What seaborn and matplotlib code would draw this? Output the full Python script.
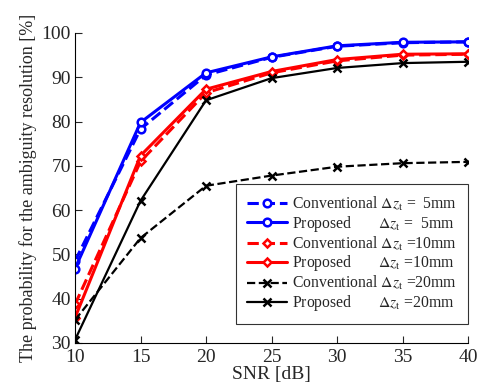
import numpy as np
import matplotlib
matplotlib.use("Agg")
import matplotlib.pyplot as plt
import seaborn as sns

snr = [10, 15, 20, 25, 30, 35, 40]

conv_5 = [48.5, 78.3, 90.5, 94.5, 97.0, 97.8, 98.0]
prop_5 = [46.8, 79.8, 91.0, 94.6, 97.1, 97.9, 98.0]
conv_10 = [38.7, 71.0, 86.5, 91.0, 93.7, 95.0, 95.2]
prop_10 = [35.7, 72.3, 87.3, 91.3, 94.0, 95.2, 95.3]
conv_20 = [35.2, 53.7, 65.5, 67.8, 69.8, 70.6, 70.9]
prop_20 = [30.7, 62.1, 84.8, 89.8, 92.1, 93.2, 93.5]

labels = [
    r"Conventional $\Delta z_{\mathrm{t}}$ =  5mm",
    r"Proposed       $\Delta z_{\mathrm{t}}$ =  5mm",
    r"Conventional $\Delta z_{\mathrm{t}}$ =10mm",
    r"Proposed       $\Delta z_{\mathrm{t}}$ =10mm",
    r"Conventional $\Delta z_{\mathrm{t}}$ =20mm",
    r"Proposed       $\Delta z_{\mathrm{t}}$ =20mm",
]

sns.set_style("white")
plt.rcParams["font.family"] = ["Liberation Serif", "DejaVu Serif"]
plt.rcParams["mathtext.fontset"] = "stix"

fig = plt.figure(figsize=(4.84, 3.88), dpi=100)
ax = fig.add_axes([0.155, 0.116, 0.812, 0.799])

series = [conv_5, prop_5, conv_10, prop_10, conv_20, prop_20]
colors = ["blue", "blue", "red", "red", "black", "black"]
markers = ["o", "o", "D", "D", "x", "x"]
styles = ["--", "-", "--", "-", "--", "-"]
widths = [2.2, 2.2, 2.2, 2.2, 1.6, 1.6]

for vals, c, m, ls, w, lab in zip(series, colors, markers, styles, widths, labels):
    sns.lineplot(x=snr, y=vals, ax=ax, color=c, linestyle=ls, lw=w,
                 marker=m, markersize=5.5 if m != "D" else 4.5,
                 markerfacecolor="white" if m != "x" else c,
                 markeredgecolor=c, markeredgewidth=1.8, label=lab)

ax.set_xlim(10, 40)
ax.set_ylim(30, 100)
ax.set_xticks(snr)
ax.set_yticks(range(30, 101, 10))
ax.set_xlabel("SNR [dB]", fontsize=14, labelpad=0)
ax.set_ylabel("The probability for the ambiguity resolution [%]", fontsize=13, labelpad=3)
ax.tick_params(direction="in", length=5, labelsize=14, width=0.8,
               left=True, bottom=True)
ax.tick_params(axis="x", pad=4)
ax.tick_params(axis="y", pad=3)
sns.despine(ax=ax)
for s in ["left", "bottom"]:
    ax.spines[s].set_color("black")
    ax.spines[s].set_linewidth(0.8)

leg = ax.legend(loc="lower right", bbox_to_anchor=(1.0, 0.061), fontsize=11.3,
                frameon=True, fancybox=False, edgecolor="black",
                handlelength=2.6, handletextpad=0.3, borderpad=0.7,
                labelspacing=0.05, borderaxespad=0.0)
leg.get_frame().set_linewidth(0.8)

fig.savefig("out.png", dpi=100)
